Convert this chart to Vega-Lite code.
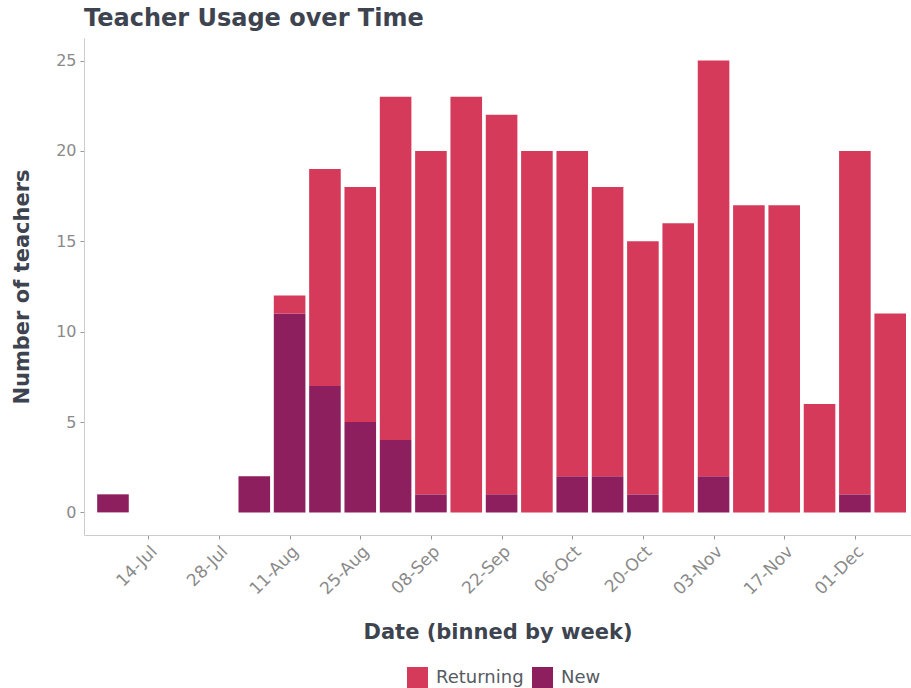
{
  "$schema": "https://vega.github.io/schema/vega-lite/v6.json",
  "width": 827,
  "height": 497,
  "autosize": "none",
  "padding": {"left": 84, "top": 38, "right": 0, "bottom": 153},
  "background": "white",
  "config": {
    "font": "DejaVu Sans",
    "view": {"stroke": null},
    "axis": {"grid": false, "domainColor": "#cccccc", "tickColor": "#999999", "tickSize": 4, "labelColor": "#8a8a8a", "labelFontSize": 16, "titleColor": "#3d4450", "titleFontSize": 21, "titleFontWeight": "bold"}
  },
  "title": {"text": "Teacher Usage over Time", "anchor": "start", "frame": "group", "fontSize": 24, "fontWeight": "bold", "color": "#3d4450", "offset": 7},
  "data": {"values": [
    {"week": "2019-07-07", "type": "New", "count": 1},
    {"week": "2019-08-04", "type": "New", "count": 2},
    {"week": "2019-08-11", "type": "New", "count": 11},
    {"week": "2019-08-11", "type": "Returning", "count": 1},
    {"week": "2019-08-18", "type": "New", "count": 7},
    {"week": "2019-08-18", "type": "Returning", "count": 12},
    {"week": "2019-08-25", "type": "New", "count": 5},
    {"week": "2019-08-25", "type": "Returning", "count": 13},
    {"week": "2019-09-01", "type": "New", "count": 4},
    {"week": "2019-09-01", "type": "Returning", "count": 19},
    {"week": "2019-09-08", "type": "New", "count": 1},
    {"week": "2019-09-08", "type": "Returning", "count": 19},
    {"week": "2019-09-15", "type": "Returning", "count": 23},
    {"week": "2019-09-22", "type": "New", "count": 1},
    {"week": "2019-09-22", "type": "Returning", "count": 21},
    {"week": "2019-09-29", "type": "Returning", "count": 20},
    {"week": "2019-10-06", "type": "New", "count": 2},
    {"week": "2019-10-06", "type": "Returning", "count": 18},
    {"week": "2019-10-13", "type": "New", "count": 2},
    {"week": "2019-10-13", "type": "Returning", "count": 16},
    {"week": "2019-10-20", "type": "New", "count": 1},
    {"week": "2019-10-20", "type": "Returning", "count": 14},
    {"week": "2019-10-27", "type": "Returning", "count": 16},
    {"week": "2019-11-03", "type": "New", "count": 2},
    {"week": "2019-11-03", "type": "Returning", "count": 23},
    {"week": "2019-11-10", "type": "Returning", "count": 17},
    {"week": "2019-11-17", "type": "Returning", "count": 17},
    {"week": "2019-11-24", "type": "Returning", "count": 6},
    {"week": "2019-12-01", "type": "New", "count": 1},
    {"week": "2019-12-01", "type": "Returning", "count": 19},
    {"week": "2019-12-08", "type": "Returning", "count": 11}
  ]},
  "mark": {"type": "bar", "width": 31.6, "clip": true},
  "encoding": {
    "x": {
      "field": "week", "type": "temporal",
      "scale": {"type": "utc", "domain": [1562047200000, 1576033632000]},
      "axis": {
        "title": "Date (binned by week)",
        "labelExpr": "utcFormat(datum.value, '%d-%b')",
        "values": [
          {"year": 2019, "month": "Jul", "date": 14, "utc": true},
          {"year": 2019, "month": "Jul", "date": 28, "utc": true},
          {"year": 2019, "month": "Aug", "date": 11, "utc": true},
          {"year": 2019, "month": "Aug", "date": 25, "utc": true},
          {"year": 2019, "month": "Sep", "date": 8, "utc": true},
          {"year": 2019, "month": "Sep", "date": 22, "utc": true},
          {"year": 2019, "month": "Oct", "date": 6, "utc": true},
          {"year": 2019, "month": "Oct", "date": 20, "utc": true},
          {"year": 2019, "month": "Nov", "date": 3, "utc": true},
          {"year": 2019, "month": "Nov", "date": 17, "utc": true},
          {"year": 2019, "month": "Dec", "date": 1, "utc": true}
        ],
        "labelAngle": -45, "labelAlign": "right", "labelBaseline": "top", "labelPadding": 4, "labelFontSize": 17,
        "titlePadding": 24
      }
    },
    "y": {
      "field": "count", "type": "quantitative", "stack": "zero",
      "scale": {"domain": [-1.25, 26.25], "nice": false, "zero": false},
      "axis": {"title": "Number of teachers", "values": [0, 5, 10, 15, 20, 25], "titlePadding": 23, "labelPadding": 4}
    },
    "color": {
      "field": "type", "type": "nominal",
      "scale": {"domain": ["Returning", "New"], "range": ["#D63A5A", "#8E1F5E"]},
      "legend": {"orient": "none", "legendX": 323, "legendY": 629, "direction": "horizontal", "title": null, "symbolType": "square", "symbolSize": 441, "symbolStrokeWidth": 0, "labelFontSize": 18, "labelColor": "#555a62", "columnPadding": 8, "labelOffset": 8}
    },
    "order": {"field": "type", "sort": "ascending"}
  }
}
